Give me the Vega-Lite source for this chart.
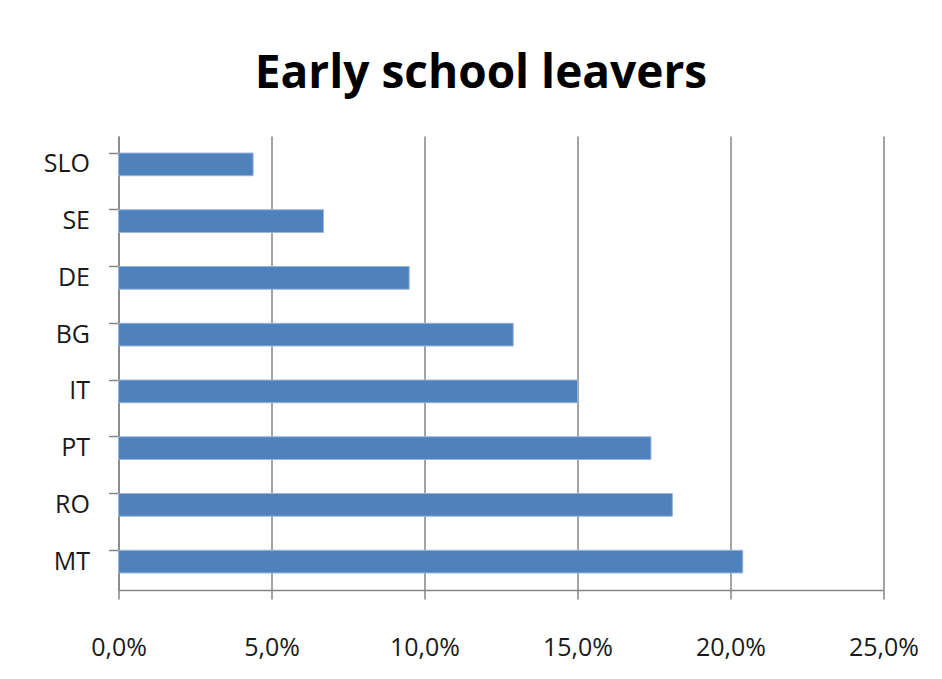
{
  "$schema": "https://vega.github.io/schema/vega-lite/v6.json",
  "autosize": "none",
  "width": 765,
  "height": 454,
  "padding": {"left": 118.5, "top": 136, "right": 58.5, "bottom": 89},
  "background": "white",
  "title": {
    "text": "Early school leavers",
    "font": "Open Sans",
    "fontSize": 46,
    "fontWeight": "bold",
    "color": "black",
    "anchor": "middle",
    "frame": "group",
    "dx": -20,
    "offset": 38
  },
  "config": {
    "locale": {
      "number": {"decimal": ",", "thousands": ".", "grouping": [3], "currency": ["", " €"]}
    },
    "view": {"stroke": null},
    "axis": {
      "labelFont": "Open Sans",
      "labelFontSize": 25,
      "labelColor": "#1a1a1a",
      "domainColor": "#868686",
      "tickColor": "#868686",
      "gridColor": "#868686",
      "domainWidth": 1.5,
      "tickWidth": 1.5,
      "gridWidth": 1.5
    }
  },
  "data": {
    "values": [
      {"country": "SLO", "rate": 0.044},
      {"country": "SE", "rate": 0.067},
      {"country": "DE", "rate": 0.095},
      {"country": "BG", "rate": 0.129},
      {"country": "IT", "rate": 0.150},
      {"country": "PT", "rate": 0.174},
      {"country": "RO", "rate": 0.181},
      {"country": "MT", "rate": 0.204}
    ]
  },
  "mark": {"type": "bar", "color": "#4F81BD", "stroke": "#9AB5DA", "strokeWidth": 1},
  "encoding": {
    "y": {
      "field": "country",
      "type": "nominal",
      "sort": null,
      "scale": {"paddingInner": 0.6, "paddingOuter": 0.3},
      "axis": {
        "title": null,
        "bandPosition": 0,
        "tickSize": 10,
        "labelPadding": 19,
        "grid": false
      }
    },
    "x": {
      "field": "rate",
      "type": "quantitative",
      "scale": {"domain": [0, 0.25], "nice": false},
      "axis": {
        "title": null,
        "format": ".1%",
        "values": [0, 0.05, 0.1, 0.15, 0.2, 0.25],
        "tickSize": 9,
        "labelPadding": 56,
        "labelBaseline": "alphabetic",
        "labelFlush": false,
        "labelOverlap": false,
        "grid": true
      }
    }
  }
}
